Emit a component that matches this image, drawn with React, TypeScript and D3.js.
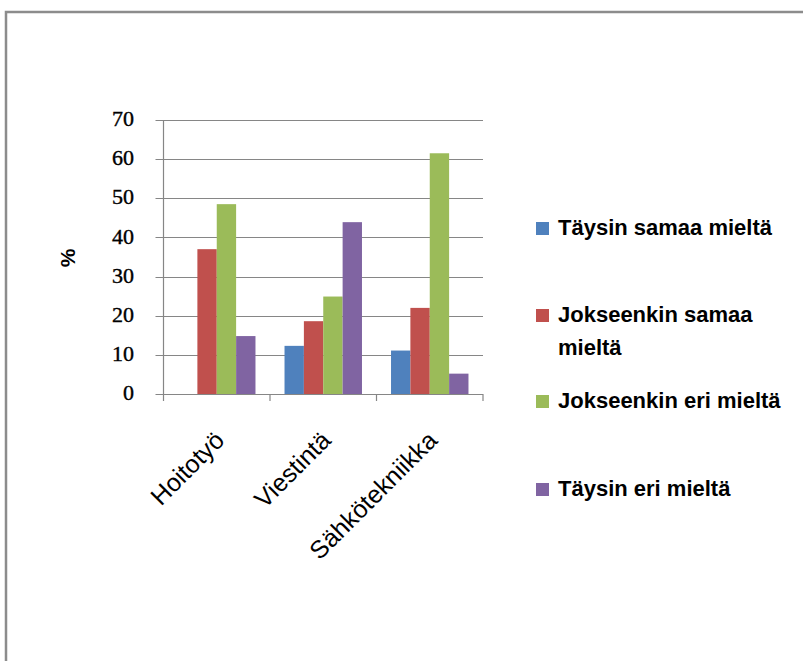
import React from "react";
import * as d3 from "d3";

const categories = ["Hoitotyö", "Viestintä", "Sähkötekniikka"];
const seriesNames = [
  "Täysin samaa mieltä",
  "Jokseenkin samaa mieltä",
  "Jokseenkin eri mieltä",
  "Täysin eri mieltä",
];
const taysinSamaa = [0, 12.3, 11.1];
const jokseenkinSamaa = [37.0, 18.6, 22.0];
const jokseenkinEri = [48.5, 24.9, 61.5];
const taysinEri = [14.8, 43.9, 5.2];
const yTicks = [0, 10, 20, 30, 40, 50, 60, 70];
const colors = ["#4F81BD", "#C0504D", "#9BBB59", "#8064A2"];
const legendLines = [
  ["Täysin samaa mieltä"],
  ["Jokseenkin samaa", "mieltä"],
  ["Jokseenkin eri mieltä"],
  ["Täysin eri mieltä"],
];

export default function App() {
  const series = [taysinSamaa, jokseenkinSamaa, jokseenkinEri, taysinEri];
  const x0 = 163.5, x1 = 483, yTop = 120, yBot = 394;
  const x = d3.scaleBand<string>().domain(categories).range([x0, x1]).paddingInner(0).paddingOuter(0);
  const inner = d3.scaleBand<number>().domain([0, 1, 2, 3]).range([0, x.bandwidth()]).paddingInner(0).paddingOuter(0.75);
  const y = d3.scaleLinear().domain([0, 70]).range([yBot, yTop]);
  const grid = "#868686";
  const legendBase = [235, 322, 408, 496];
  return (
    <svg width={803} height={661} style={{ position: "absolute", left: 0, top: 0, background: "#fff" }}>
      <rect x={6} y={12} width={900} height={800} fill="#fff" stroke="#8c8c8c" strokeWidth={2.5} />
      {yTicks.map((t) => (
        <g key={t}>
          <line x1={x0 - 8} x2={x1} y1={Math.round(y(t)) + 0.5} y2={Math.round(y(t)) + 0.5} stroke={grid} strokeWidth={1.2} />
          <text x={134} y={y(t)} dy="0.28em" textAnchor="end" fontFamily="Liberation Serif" fontSize={22} fill="#000" stroke="#000" strokeWidth={0.4}>
            {t}
          </text>
        </g>
      ))}
      <line x1={x0} x2={x0} y1={yTop} y2={yBot} stroke={grid} strokeWidth={1.2} />
      {categories.map((c) => (
        <line key={"t" + c} x1={x(c)! + x.bandwidth()} x2={x(c)! + x.bandwidth()} y1={yBot} y2={yBot + 7} stroke={grid} strokeWidth={1.2} />
      ))}
      <line x1={x0} x2={x0} y1={yBot} y2={yBot + 7} stroke={grid} strokeWidth={1.2} />
      {series.map((vals, s) =>
        categories.map((c, i) =>
          vals[i] > 0 ? (
            <rect
              key={s + "-" + c}
              x={x(c)! + inner(s)!}
              y={y(vals[i])}
              width={inner.bandwidth()}
              height={yBot - y(vals[i])}
              fill={colors[s]}
            />
          ) : null
        )
      )}
      <text transform="translate(75,258) rotate(-90)" textAnchor="middle" fontFamily="Liberation Sans" fontWeight="bold" fontSize={21}>
        %
      </text>
      {categories.map((c) => {
        const cx = x(c)! + x.bandwidth() / 2 + 9;
        return (
          <text key={"l" + c} transform={`translate(${cx},${yBot + 48}) rotate(-45)`} textAnchor="end" fontFamily="Liberation Sans" fontSize={25}>
            {c}
          </text>
        );
      })}
      {legendLines.map((lines, i) => (
        <g key={seriesNames[i]}>
          <rect x={536} y={legendBase[i] - 13} width={13} height={13} fill={colors[i]} />
          {lines.map((ln, j) => (
            <text key={j} x={558} y={legendBase[i] + j * 33} fontFamily="Liberation Sans" fontWeight="bold" fontSize={22}>
              {ln}
            </text>
          ))}
        </g>
      ))}
    </svg>
  );
}
